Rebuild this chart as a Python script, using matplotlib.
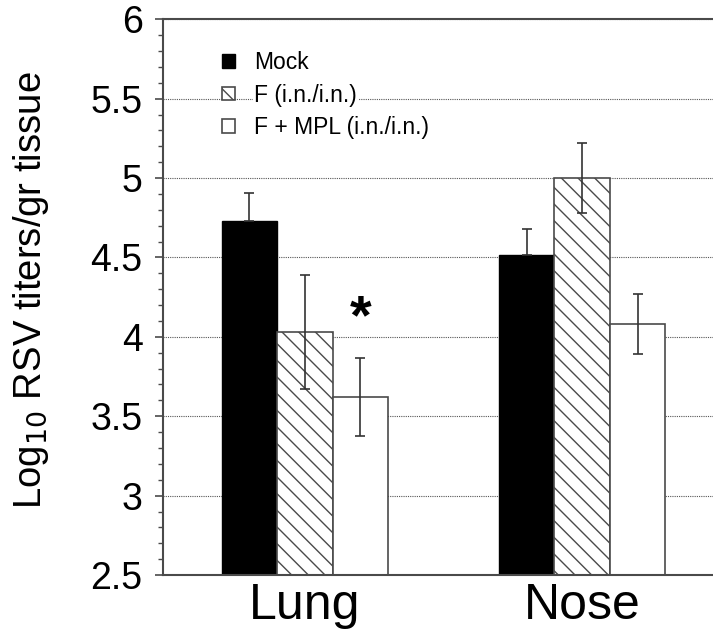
import numpy as np
import matplotlib
matplotlib.use('Agg')
import matplotlib.pyplot as plt

plt.rcParams['font.family'] = ['Liberation Sans', 'DejaVu Sans']
plt.rcParams['hatch.linewidth'] = 1.0

# data
tissues = ['Lung', 'Nose']
groups = ['Mock', 'F (i.n./i.n.)', 'F + MPL (i.n./i.n.)']
mock = [4.73, 4.515]
f_in = [4.03, 5.0]
f_mpl = [3.62, 4.08]
mock_err = [0.175, 0.165]
f_in_err = [0.36, 0.22]
f_mpl_err = [0.245, 0.19]

x = np.arange(len(tissues))
w = 0.2
grey = '#4a4a4a'

fig = plt.figure(figsize=(7.13, 6.33), dpi=100)
ax = fig.add_axes([0.2293, 0.0916, 0.7855, 0.878])

ax.bar(x - w, mock, w, color='black', edgecolor='black', linewidth=1.0,
       label=groups[0], zorder=2)
ax.bar(x, f_in, w, color='white', edgecolor=grey, hatch='\\\\', linewidth=1.2,
       label=groups[1], zorder=2)
ax.bar(x + w, f_mpl, w, color='white', edgecolor=grey, linewidth=1.2,
       label=groups[2], zorder=2)

ekw = dict(fmt='none', ecolor='#333333', elinewidth=1.2, capsize=3.5, capthick=1.2, zorder=3)
ax.errorbar(x - w, mock, yerr=[np.zeros(len(mock)), mock_err], **ekw)
ax.errorbar(x, f_in, yerr=f_in_err, **ekw)
ax.errorbar(x + w, f_mpl, yerr=f_mpl_err, **ekw)

# significance mark
ax.text(x[0] + w, 4.11, '*', fontsize=40, fontweight='bold', ha='center', va='center')

ax.set_xlim(-0.51, 1.51)
ax.set_ylim(2.5, 6)
ax.set_yticks(np.arange(2.5, 6.01, 0.5))
ax.set_yticklabels(['2.5', '3', '3.5', '4', '4.5', '5', '5.5', '6'])
ax.set_yticks(np.arange(2.5, 6.01, 0.1), minor=True)
ax.set_xticks(x)
ax.set_xticklabels(tissues, fontsize=36)

ax.tick_params(axis='y', which='major', direction='out', length=6, width=1.2,
               color=grey, labelsize=27, pad=9)
ax.tick_params(axis='y', which='minor', direction='out', length=3.5, width=1.0, color=grey)
ax.tick_params(axis='x', length=0, pad=6)

ax.grid(axis='y', which='major', linestyle=(0, (1, 1)), color='#555555', linewidth=0.8)
ax.set_axisbelow(True)

for side in ['left', 'top', 'bottom', 'right']:
    ax.spines[side].set_color(grey)
    ax.spines[side].set_linewidth(1.5)

ax.set_ylabel('Log$_{10}$ RSV titers/gr tissue', fontsize=27.5)
ax.yaxis.set_label_coords(-0.201, 0.513)

leg = ax.legend(loc='upper left', bbox_to_anchor=(0.068, 0.98), frameon=False,
                fontsize=16.5, handlelength=0.55, handleheight=0.55, handletextpad=0.85,
                labelspacing=0.42)
for t in leg.get_texts():
    t.set_bbox(dict(facecolor='white', edgecolor='none', pad=1))

fig.savefig('out.png', dpi=100)
